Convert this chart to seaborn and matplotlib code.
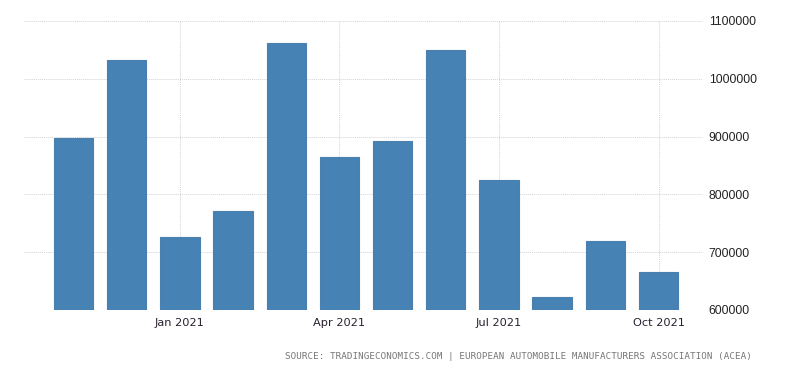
import matplotlib
matplotlib.use("Agg")
import matplotlib.pyplot as plt
import seaborn as sns
import pandas as pd

# monthly passenger car registrations, Nov 2020 - Oct 2021
months = ["Nov 2020", "Dec 2020", "Jan 2021", "Feb 2021", "Mar 2021", "Apr 2021",
          "May 2021", "Jun 2021", "Jul 2021", "Aug 2021", "Sep 2021", "Oct 2021"]
registrations = [898000, 1032000, 726000, 771000, 1062000, 864000,
                 892000, 1049000, 824000, 622000, 719000, 666000]
tick_months = ["Jan 2021", "Apr 2021", "Jul 2021", "Oct 2021"]
y_ticks = [600000, 700000, 800000, 900000, 1000000, 1100000]

df = pd.DataFrame({"month": months, "value": registrations})

sns.set_style("white")
fig = plt.figure(figsize=(8, 3.73), dpi=100)
ax = fig.add_axes([0.03, 0.169, 0.849, 0.775])

sns.barplot(data=df, x="month", y="value", color="#4682b4", width=0.74,
            saturation=1, edgecolor="#4a7fae", linewidth=0.8, ax=ax)

ax.set_ylim(600000, 1100000)
ax.set_xlim(-0.93, 11.84)
ax.set_yticks(y_ticks)
ax.set_yticklabels([str(v) for v in y_ticks], family="Liberation Sans",
                   fontsize=8.8, color="#222222")
ax.yaxis.tick_right()

ax.set_xticks([months.index(m) for m in tick_months])
ax.set_xticklabels(tick_months, fontsize=8.2, color="#2a2030")
ax.tick_params(axis="both", length=0, pad=6)
ax.tick_params(axis="y", pad=4)

ax.grid(True, linestyle=(0, (1, 1)), color="#d4d4d4", linewidth=0.7)
ax.set_axisbelow(True)
for s in ax.spines.values():
    s.set_visible(False)
ax.set_xlabel("")
ax.set_ylabel("")

fig.text(0.94, 0.043,
         "SOURCE: TRADINGECONOMICS.COM | EUROPEAN AUTOMOBILE MANUFACTURERS ASSOCIATION (ACEA)",
         family="DejaVu Sans Mono", fontsize=6.7, color="#777777", ha="right", va="center")

fig.savefig("out.png", dpi=100)
